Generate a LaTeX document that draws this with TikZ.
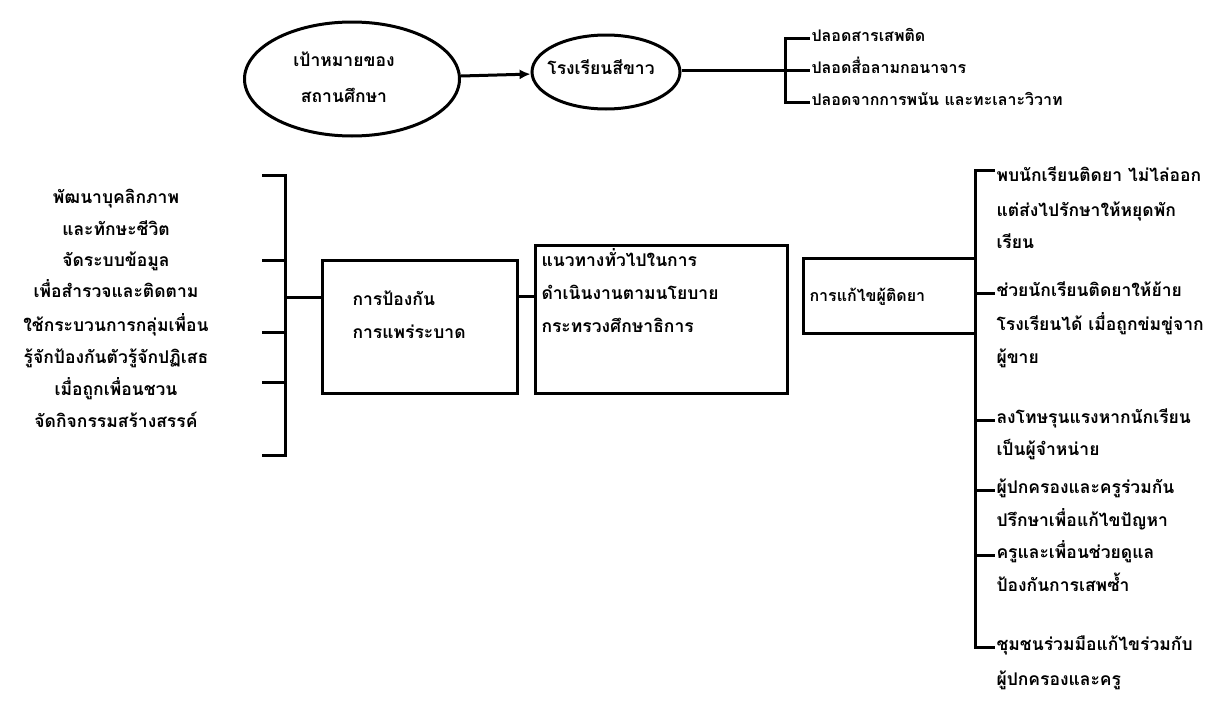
\documentclass[tikz,border=0pt]{standalone}
\usepackage{fontspec}
\newfontfamily\thai[Script=Thai]{Loma}
\usetikzlibrary{arrows.meta,shapes.geometric}
\begin{document}
\begin{tikzpicture}[x=1pt,y=-1pt,line width=3pt,
  txt/.style={font=\thai\bfseries\fontsize{17.5}{20}\selectfont,inner sep=0pt,text height=12pt,text depth=4.5pt},
  small/.style={font=\thai\bfseries\fontsize{16}{19}\selectfont},
  lst/.style={txt,anchor=west},
  ctr/.style={txt,anchor=center},
  ell/.style={draw,ellipse,inner sep=0pt},
  box/.style={draw,rectangle,inner sep=0pt}]
\useasboundingbox (0,0) rectangle (1218,704);
% ellipses
\node[ell,minimum width=215pt,minimum height=114pt] (e1) at (352,79) {};
\node[ctr] (e1a) at (344,63) {เป้าหมายของ};
\node[ctr] (e1b) at (344,99) {สถานศึกษา};
\node[ell,minimum width=148pt,minimum height=74pt] (e2) at (606,72) {};
\node[ctr] (e2a) at (601,71) {โรงเรียนสีขาว};
\draw[-{Latex[length=11pt,width=10pt]}] (e1) -- (e2);
% top list
\node[lst,small] (p1) at (810,38) {ปลอดสารเสพติด};
\node[lst,small] (p2) at (810,70) {ปลอดสื่อลามกอนาจาร};
\node[lst,small] (p3) at (810,102) {ปลอดจากการพนัน และทะเลาะวิวาท};
\coordinate (tb) at (785,70);
\draw (e2.east |- tb) -- (p2.west);
\draw (p1.west) -| (tb) |- (p3.west);
% boxes
\node[box,minimum width=195pt,minimum height=133pt] (b1) at (419.5,326.5) {};
\node[lst] (b1a) at (351,302) {การป้องกัน};
\node[lst] (b1b) at (351,335) {การแพร่ระบาด};
\node[box,minimum width=252pt,minimum height=148pt] (b2) at (661,319) {};
\node[lst] (b2a) at (540,263) {แนวทางทั่วไปในการ};
\node[lst] (b2b) at (540,296) {ดำเนินงานตามนโยบาย};
\node[lst] (b2c) at (540,329) {กระทรวงศึกษาธิการ};
\draw (b1.east |- b2b) -- (b2.west |- b2b);
\node[box,minimum width=172pt,minimum height=75pt] (b3) at (889,295.5) {};
\node[lst,small] (b3a) at (808,298) {การแก้ไขผู้ติดยา};
% left list
\node[ctr] (l1) at (116,200) {พัฒนาบุคลิกภาพ};
\node[ctr] (l2) at (116,232) {และทักษะชีวิต};
\node[ctr] (l3) at (116,263) {จัดระบบข้อมูล};
\node[ctr] (l4) at (116,294) {เพื่อสำรวจและติดตาม};
\node[ctr] (l5) at (116,328) {ใช้กระบวนการกลุ่มเพื่อน};
\node[ctr] (l6) at (116,360) {รู้จักป้องกันตัวรู้จักปฏิเสธ};
\node[ctr] (l7) at (116,392) {เมื่อถูกเพื่อนชวน};
\node[ctr] (l8) at (116,424) {จัดกิจกรรมสร้างสรรค์};
\coordinate (lt) at (262,175);
\coordinate (lb) at (262,455);
\coordinate (lv) at (285,297);
\draw (lt) -| (lv) |- (lb);
\draw (lv) -- (b1.west |- lv);
\foreach \yy in {260,332,382} \draw (262,\yy) -- (285,\yy);
% right list
\node[lst] (r1) at (995,178) {พบนักเรียนติดยา ไม่ไล่ออก};
\node[lst] (r1b) at (995,213) {แต่ส่งไปรักษาให้หยุดพัก};
\node[lst] (r1c) at (995,245) {เรียน};
\node[lst] (r2) at (995,293) {ช่วยนักเรียนติดยาให้ย้าย};
\node[lst] (r2b) at (995,327) {โรงเรียนได้ เมื่อถูกข่มขู่จาก};
\node[lst] (r2c) at (995,360) {ผู้ขาย};
\node[lst] (r3) at (995,420) {ลงโทษรุนแรงหากนักเรียน};
\node[lst] (r3b) at (995,452) {เป็นผู้จำหน่าย};
\node[lst] (r4) at (995,490) {ผู้ปกครองและครูร่วมกัน};
\node[lst] (r4b) at (995,523) {ปรึกษาเพื่อแก้ไขปัญหา};
\node[lst] (r5) at (995,555) {ครูและเพื่อนช่วยดูแล};
\node[lst] (r5b) at (995,588) {ป้องกันการเสพซ้ำ};
\node[lst] (r6) at (995,647) {ชุมชนร่วมมือแก้ไขร่วมกับ};
\node[lst] (r6b) at (995,682) {ผู้ปกครองและครู};
\coordinate (rv) at (975,170);
\draw (r1.west |- rv) -- (rv) -- (rv |- r6) -- (r6.west);
\foreach \n in {r2,r3,r4,r5} \draw (rv |- \n) -- (\n.west);
\end{tikzpicture}
\end{document}
